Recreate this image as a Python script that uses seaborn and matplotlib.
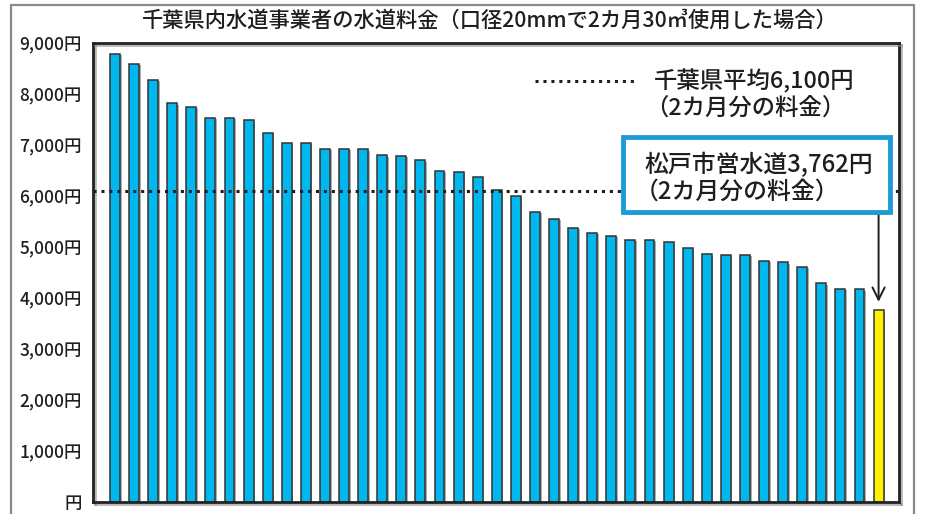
import matplotlib
matplotlib.use("Agg")
import matplotlib.pyplot as plt
import matplotlib.patheffects as pe
from matplotlib.patches import Rectangle
from matplotlib.lines import Line2D
import seaborn as sns
import pandas as pd

# ---- data ----
operators = [f"事業者{i}" for i in range(1, 41)] + ["松戸市営水道"]
charges = [8784, 8588, 8280, 7818, 7751, 7529, 7529, 7484, 7235, 7039,
           7039, 6927, 6927, 6916, 6798, 6784, 6700, 6490, 6476, 6382,
           6112, 6000, 5686, 5549, 5373, 5275, 5216, 5143, 5143, 5098,
           4986, 4857, 4849, 4849, 4725, 4700, 4614, 4288, 4176, 4171,
           3762]
chiba_average = 6100
yticks = [0, 1000, 2000, 3000, 4000, 5000, 6000, 7000, 8000, 9000]

title = "千葉県内水道事業者の水道料金（口径20mmで2カ月30㎥使用した場合）"
avg_label = "千葉県平均6,100円"
sub_label = "（2カ月分の料金）"
matsudo_label = "松戸市営水道3,762円"

BLUE = "#00B8EE"
YELLOW = "#FFF200"
BOX_BLUE = "#1E9AD6"
INK = "#1e1e1e"

df = pd.DataFrame({"operator": operators, "charge": charges})
palette = [BLUE] * (len(operators) - 1) + [YELLOW]

sns.set_theme(style="white")
plt.rcParams["font.family"] = ["Noto Sans CJK JP", "DejaVu Sans"]
plt.rcParams["font.weight"] = "medium"

W, H = 932, 514
fig = plt.figure(figsize=(W / 100, H / 100), dpi=100)
ax = fig.add_axes([93 / W, 1 - 502 / H, (899 - 93) / W, (502 - 43) / H])

sns.barplot(data=df, x="operator", y="charge", hue="operator", palette=palette,
            legend=False, width=0.52, edgecolor="#333333", linewidth=1.1,
            saturation=1, ax=ax, zorder=2)
for p in ax.patches:
    p.set_path_effects([pe.SimplePatchShadow(offset=(1.2, -1.0), shadow_rgbFace="#777777", alpha=0.6),
                        pe.Normal()])

ax.axhline(chiba_average, color=INK, lw=2.2, ls=(0, (1, 1.6)), zorder=3)

ax.set_xlim(-1.15, len(operators) - 1 + 1.07)
ax.set_ylim(0, 9000)
ax.set_yticks(yticks)
ax.set_yticklabels([f"{v:,}円" if v else "円" for v in yticks], fontsize=12.5, color=INK)
ax.set_xticks([])
ax.set_xlabel("")
ax.set_ylabel("")
ax.tick_params(axis="y", length=0, pad=8)
for s in ax.spines.values():
    s.set_visible(True)
    s.set_color("#222222")
    s.set_linewidth(2)
    s.set_path_effects([pe.SimpleLineShadow(offset=(1.2, -1.2), shadow_color="#888888", alpha=0.6),
                        pe.Normal()])

def fx(px):
    return px / W

def fy(py):
    return 1 - py / H

# outer gray frame
for xs, ys in [([11, 11], [514, 5]), ([11, 914], [5, 5]), ([914, 914], [5, 514])]:
    fig.add_artist(Line2D([fx(x) for x in xs], [fy(y) for y in ys], color="#8a8a8a", lw=1.6))

# title
fig.text(fx(490), fy(21), title, ha="center", va="center", fontsize=15.3, color=INK)

# average legend
fig.add_artist(Line2D([fx(535), fx(638)], [fy(81), fy(81)], color=INK, lw=2.2, ls=(0, (1, 1.6))))
fig.text(fx(654), fy(81), avg_label, ha="left", va="center", fontsize=16.8, color=INK)
fig.text(fx(645), fy(108), sub_label, ha="left", va="center", fontsize=16.8, color=INK)

# Matsudo box
box = Rectangle((fx(623), fy(212)), fx(890) - fx(623), fy(137) - fy(212),
                transform=fig.transFigure, facecolor="white", edgecolor=BOX_BLUE,
                lw=3.5, zorder=5)
fig.add_artist(box)
fig.text(fx(644), fy(165), matsudo_label, ha="left", va="center", fontsize=17.2,
         color=INK, zorder=6)
fig.text(fx(635), fy(192), sub_label, ha="left", va="center", fontsize=17.2,
         color=INK, zorder=6)

last = len(operators) - 1
ax.annotate("", xy=(last, charges[last]), xycoords="data",
            xytext=(last, fy(213)), textcoords=("data", "figure fraction"),
            arrowprops=dict(arrowstyle="->", color=INK, lw=1.4,
                            mutation_scale=22, shrinkA=0, shrinkB=6),
            annotation_clip=False, zorder=4)

fig.savefig("out.png", dpi=100)
